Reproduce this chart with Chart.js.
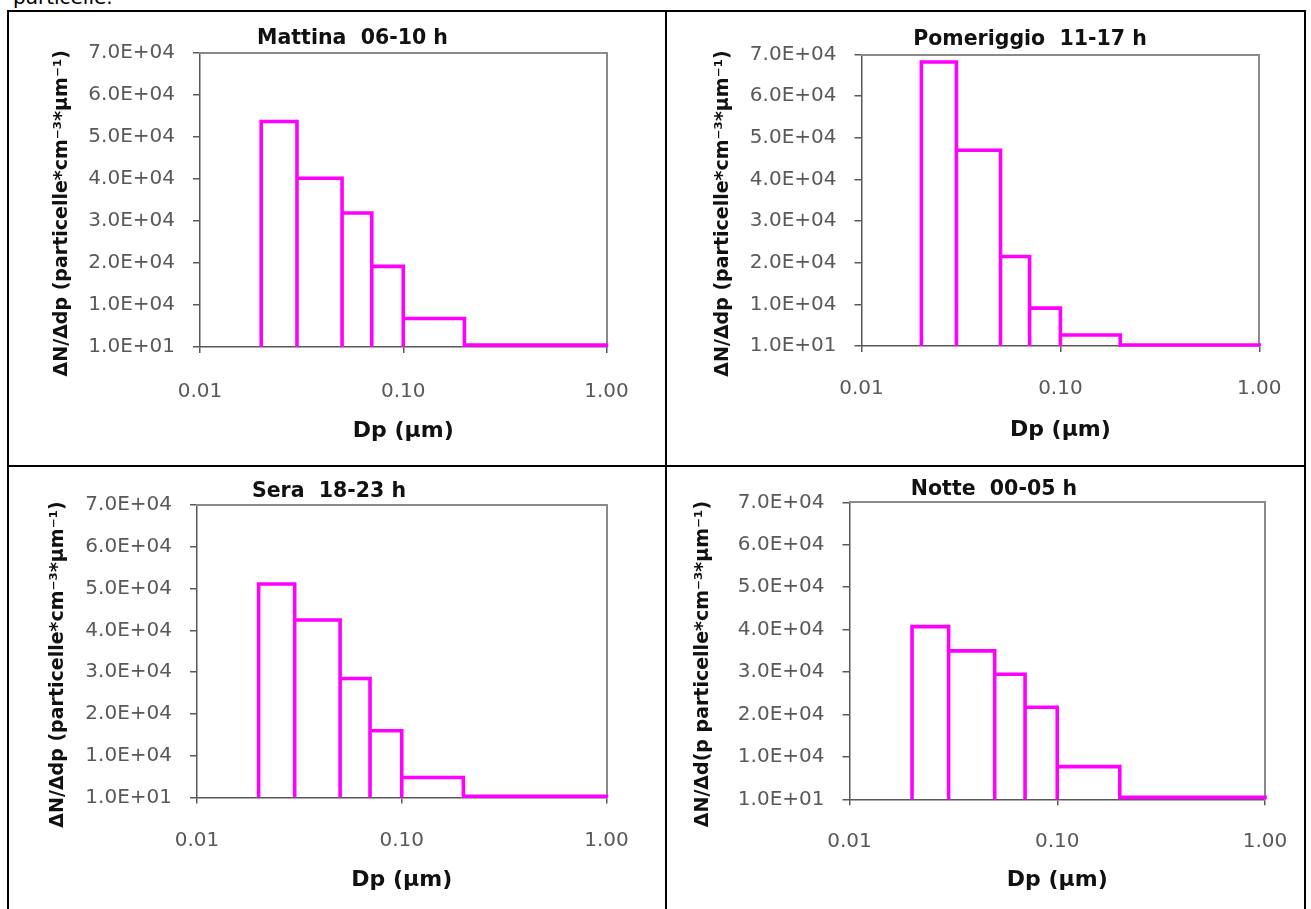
<!DOCTYPE html>
<html>
<head>
<meta charset="utf-8">
<script src="https://cdn.jsdelivr.net/npm/chart.js@4.4.1/dist/chart.umd.min.js"></script>
<style>
html,body{margin:0;padding:0;background:#fff;}
body{width:1311px;height:909px;overflow:hidden;position:relative;}
.rule{position:absolute;background:#000;}
canvas{position:absolute;}
#note{position:absolute;left:13px;top:-13px;font:20px "DejaVu Sans";color:#000;line-height:20px;white-space:nowrap;}
</style>
</head>
<body>
<div id="note">particelle.</div>
<div class="rule" style="left:7px;top:10px;width:1299px;height:2px"></div>
<div class="rule" style="left:7px;top:10px;width:2px;height:899px"></div>
<div class="rule" style="left:665px;top:10px;width:2px;height:899px"></div>
<div class="rule" style="left:1304px;top:10px;width:2px;height:899px"></div>
<div class="rule" style="left:7px;top:465px;width:1299px;height:2px"></div>
<canvas id="c0"></canvas>
<canvas id="c1"></canvas>
<canvas id="c2"></canvas>
<canvas id="c3"></canvas>
<script>
// ---- data ----
const binEdges = [0.02, 0.03, 0.05, 0.07, 0.1, 0.2, 1.0];
const mattina    = [53700, 40200, 31900, 19200, 6800, 450];
const pomeriggio = [68200, 47000, 21500, 9100, 2650, 250];
const sera       = [51100, 42500, 28500, 16000, 4800, 320];
const notte      = [40700, 35000, 29500, 21700, 7700, 470];
const panelTitles = ['Mattina  06-10 h', 'Pomeriggio  11-17 h', 'Sera  18-23 h', 'Notte  00-05 h'];
const yAxisTitles = [
  'ΔN/Δdp (particelle*cm⁻³*µm⁻¹)',
  'ΔN/Δdp (particelle*cm⁻³*µm⁻¹)',
  'ΔN/Δdp (particelle*cm⁻³*µm⁻¹)',
  'ΔN/Δd(p particelle*cm⁻³*µm⁻¹)'
];
const xAxisTitle = 'Dp (µm)';
const xTickValues = [0.01, 0.1, 1];
const xTickLabels = ['0.01', '0.10', '1.00'];
const yTickValues = [10, 10010, 20010, 30010, 40010, 50010, 60010, 70010];
const yTickLabels = ['1.0E+01', '1.0E+04', '2.0E+04', '3.0E+04', '4.0E+04', '5.0E+04', '6.0E+04', '7.0E+04'];
const yMin = 10, yMax = 70010, xMin = 0.01, xMax = 1;

// ---- layout (page pixel geometry) ----
const panels = [
  {id:'c0', values:mattina,    canvas:[9,12,665,465],    plot:[200,53,606.5,347],     titleC:[352.5,38.5], yTitleX:62,  tickY:391.7, xTitleY:431.7},
  {id:'c1', values:pomeriggio, canvas:[667,12,1340,465], plot:[861.5,54.5,1259.3,346], titleC:[1030,40],   yTitleX:723, tickY:388.5, xTitleY:430},
  {id:'c2', values:sera,       canvas:[9,467,665,909],   plot:[197,505,606.5,797.5],  titleC:[329,492],    yTitleX:58,  tickY:840.5, xTitleY:880},
  {id:'c3', values:notte,      canvas:[667,467,1340,909],plot:[849.5,502.3,1265,799.3],titleC:[994,490],    yTitleX:703, tickY:841.7, xTitleY:880}
];

const FONT = 'DejaVu Sans';
const titleSize = 20.5, tickSize = 20, xTitleSize = 22, yTitleSize = 19;
const NB = '\u00a0\u00a0\u00a0\u00a0';

function outline(values) {
  const pts = [];
  for (let i = 0; i < values.length; i++) {
    pts.push({x: binEdges[i], y: yMin});
    pts.push({x: binEdges[i], y: values[i]});
    pts.push({x: binEdges[i + 1], y: values[i]});
    pts.push({x: binEdges[i + 1], y: yMin});
  }
  return pts;
}

panels.forEach((p, k) => {
  const [cx0, cy0, cx1, cy1] = p.canvas;
  const W = cx1 - cx0, H = cy1 - cy0;
  const [L, T, R, B] = p.plot;
  const tLH = titleSize * 1.2;
  const b = Math.min(cx1, 2 * p.titleC[0] - cx0);
  const a = 2 * p.titleC[0] - b;
  const padLeft = a - cx0, padRight = cx1 - b;
  const yW = L - a, y2W = b - R;
  const tPadTop = p.titleC[1] - tLH / 2 - cy0;
  const tPadBot = T - cy0 - tLH - tPadTop;
  const xH = cy1 - B;
  const tickLen = 6;
  const xTickPad = p.tickY - B - tickLen - tickSize * 1.2 / 2;
  const xtPadBottom = cy1 - p.xTitleY - xTitleSize * 1.2 / 2;
  const ytPadTop = p.yTitleX - a - yTitleSize * 1.2 / 2;

  const cv = document.getElementById(p.id);
  cv.width = W; cv.height = H;
  cv.style.left = cx0 + 'px'; cv.style.top = cy0 + 'px';
  cv.style.width = W + 'px'; cv.style.height = H + 'px';

  new Chart(cv, {
    type: 'scatter',
    data: {
      datasets: [{
        data: outline(p.values),
        showLine: true,
        borderColor: '#ff00ff',
        backgroundColor: 'rgba(0,0,0,0)',
        borderWidth: 3.6,
        pointRadius: 0,
        tension: 0,
        borderJoinStyle: 'miter',
        xAxisID: 'x', yAxisID: 'y',
        clip: 4
      }]
    },
    options: {
      responsive: false,
      animation: false,
      devicePixelRatio: 1,
      layout: {padding: {left: padLeft, right: padRight, top: 0, bottom: 0}},
      plugins: {
        legend: {display: false},
        tooltip: {enabled: false},
        title: {
          display: true,
          text: panelTitles[k],
          color: '#111',
          font: {family: FONT, size: titleSize, weight: 'bold'},
          padding: {top: tPadTop, bottom: tPadBot}
        }
      },
      scales: {
        x: {
          type: 'logarithmic', position: 'bottom', min: xMin, max: xMax,
          afterBuildTicks: s => { s.ticks = xTickValues.map(v => ({value: v})); },
          afterFit: s => { s.height = xH; },
          ticks: {
            callback: (v, i) => xTickLabels[i],
            color: '#595959', font: {family: FONT, size: tickSize},
            padding: xTickPad, maxRotation: 0, autoSkip: false
          },
          grid: {display: true, drawOnChartArea: false, drawTicks: true, tickLength: tickLen, color: '#595959', lineWidth: 1.5},
          border: {display: true, color: '#595959', width: 1.5},
          title: {display: true, text: xAxisTitle, color: '#111',
                  font: {family: FONT, size: xTitleSize, weight: 'bold'},
                  padding: {top: 0, bottom: xtPadBottom}}
        },
        y: {
          type: 'linear', position: 'left', min: yMin, max: yMax,
          afterBuildTicks: s => { s.ticks = yTickValues.map(v => ({value: v})); },
          afterFit: s => { s.width = yW; },
          ticks: {
            callback: (v, i) => yTickLabels[i],
            color: '#595959', font: {family: FONT, size: tickSize},
            padding: 18, autoSkip: false
          },
          grid: {display: true, drawOnChartArea: false, drawTicks: true, tickLength: 7, color: '#595959', lineWidth: 1.5},
          border: {display: true, color: '#595959', width: 1.5},
          title: {display: true, text: yAxisTitles[k] + NB, color: '#111',
                  font: {family: FONT, size: yTitleSize, weight: 'bold'},
                  padding: {top: ytPadTop, bottom: 0}}
        },
        x2: {
          type: 'linear', position: 'top', min: 0, max: 1,
          afterFit: s => { s.height = 0; },
          ticks: {display: false},
          grid: {display: false},
          border: {display: true, color: '#8a8a8a', width: 2}
        },
        y2: {
          type: 'linear', position: 'right', min: 0, max: 1,
          afterFit: s => { s.width = y2W; },
          ticks: {display: false},
          grid: {display: false},
          border: {display: true, color: '#8a8a8a', width: 2}
        }
      }
    }
  });
});
</script>
</body>
</html>
